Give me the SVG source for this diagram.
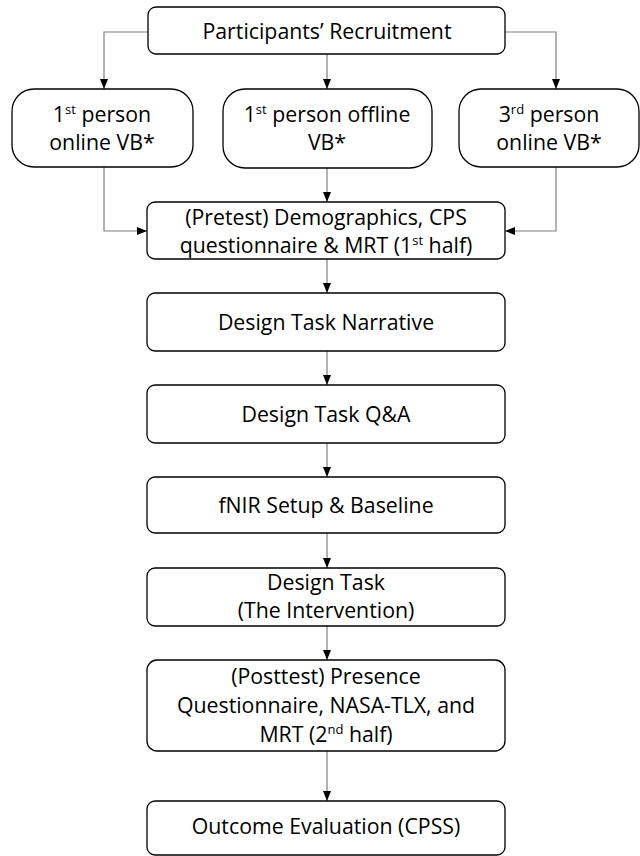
<svg xmlns="http://www.w3.org/2000/svg" width="640" height="856" viewBox="0 0 640 856">
  <style>
    .box { fill: #ffffff; stroke: #000000; stroke-width: 1.3; }
    .lbl { font-family: "Open Sans", Lato, "Liberation Sans", sans-serif; font-size: 21.3px; fill: #000000; text-anchor: middle; }
    .sup { font-size: 13px; }
    .conn { fill: none; stroke: #7f7f7f; stroke-width: 1.2; }
  </style>
  <defs>
    <marker id="arrow" markerUnits="userSpaceOnUse" markerWidth="10" markerHeight="10" viewBox="0 0 10 10" refX="10" refY="5" orient="auto">
      <path d="M0,1 L10,5 L0,9 Z" fill="#000000"/>
    </marker>
  </defs>
  <rect width="640" height="856" fill="#ffffff"/>

  <g id="connectors">
    <path class="conn" d="M148,32 H104 V89" marker-end="url(#arrow)"/>
    <path class="conn" d="M327,54 V89" marker-end="url(#arrow)"/>
    <path class="conn" d="M505,32 H556 V89" marker-end="url(#arrow)"/>
    <path class="conn" d="M104,167 V231 H147" marker-end="url(#arrow)"/>
    <path class="conn" d="M327,168 V202" marker-end="url(#arrow)"/>
    <path class="conn" d="M556,167 V231 H505" marker-end="url(#arrow)"/>
    <path class="conn" d="M327,259 V293" marker-end="url(#arrow)"/>
    <path class="conn" d="M327,351 V385" marker-end="url(#arrow)"/>
    <path class="conn" d="M327,443 V477" marker-end="url(#arrow)"/>
    <path class="conn" d="M327,533 V568" marker-end="url(#arrow)"/>
    <path class="conn" d="M327,626 V660" marker-end="url(#arrow)"/>
    <path class="conn" d="M327,751 V801" marker-end="url(#arrow)"/>
  </g>

  <g id="recruitment">
    <rect class="box" x="148" y="7" width="357" height="47" rx="8"/>
    <text class="lbl" x="327" y="39">Participants’ Recruitment</text>
  </g>

  <g id="first-online">
    <rect class="box" x="12" y="89" width="181" height="78" rx="22"/>
    <text class="lbl" x="102" y="122">1<tspan class="sup" dy="-8">st</tspan><tspan dy="8"> person</tspan></text>
    <text class="lbl" x="102" y="150">online VB*</text>
  </g>

  <g id="first-offline">
    <rect class="box" x="223" y="89" width="209" height="79" rx="22"/>
    <text class="lbl" x="327" y="122">1<tspan class="sup" dy="-8">st</tspan><tspan dy="8"> person offline</tspan></text>
    <text class="lbl" x="327" y="150">VB*</text>
  </g>

  <g id="third-online">
    <rect class="box" x="459" y="89" width="180" height="78" rx="22"/>
    <text class="lbl" x="549" y="122">3<tspan class="sup" dy="-8">rd</tspan><tspan dy="8"> person</tspan></text>
    <text class="lbl" x="549" y="150">online VB*</text>
  </g>

  <g id="pretest">
    <rect class="box" x="147" y="202" width="358" height="57" rx="8"/>
    <text class="lbl" x="326" y="225">(Pretest) Demographics, CPS</text>
    <text class="lbl" x="326" y="253">questionnaire &amp; MRT (1<tspan class="sup" dy="-8">st</tspan><tspan dy="8"> half)</tspan></text>
  </g>

  <g id="narrative">
    <rect class="box" x="147" y="293" width="358" height="58" rx="8"/>
    <text class="lbl" x="326" y="330">Design Task Narrative</text>
  </g>

  <g id="qa">
    <rect class="box" x="147" y="385" width="358" height="58" rx="8"/>
    <text class="lbl" x="326" y="422">Design Task Q&amp;A</text>
  </g>

  <g id="fnir">
    <rect class="box" x="147" y="477" width="358" height="56" rx="8"/>
    <text class="lbl" x="326" y="513">fNIR Setup &amp; Baseline</text>
  </g>

  <g id="intervention">
    <rect class="box" x="147" y="568" width="358" height="58" rx="8"/>
    <text class="lbl" x="326" y="590">Design Task</text>
    <text class="lbl" x="326" y="618">(The Intervention)</text>
  </g>

  <g id="posttest">
    <rect class="box" x="147" y="660" width="358" height="91" rx="10"/>
    <text class="lbl" x="326" y="684">(Posttest) Presence</text>
    <text class="lbl" x="326" y="713">Questionnaire, NASA-TLX, and</text>
    <text class="lbl" x="326" y="742">MRT (2<tspan class="sup" dy="-8">nd</tspan><tspan dy="8"> half)</tspan></text>
  </g>

  <g id="outcome">
    <rect class="box" x="147" y="801" width="358" height="54" rx="8"/>
    <text class="lbl" x="326" y="834">Outcome Evaluation (CPSS)</text>
  </g>
</svg>
